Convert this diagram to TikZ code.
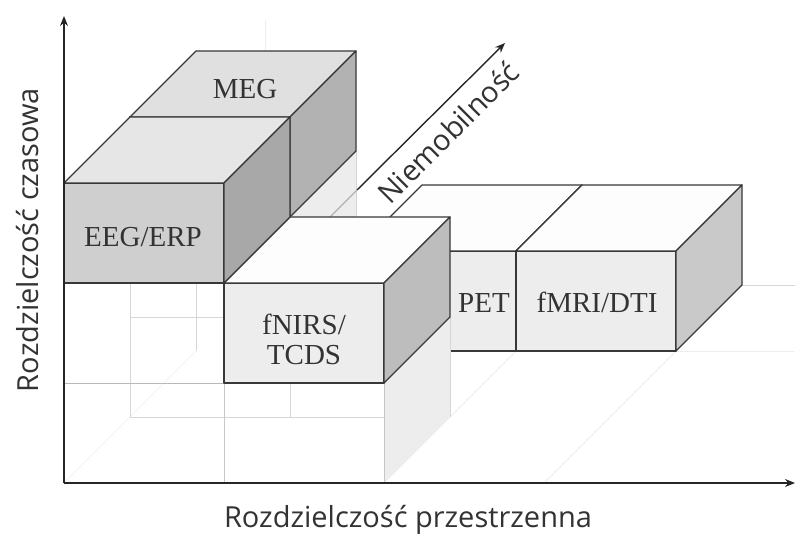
\documentclass[tikz,border=0pt]{standalone}
\usepackage{fontspec}
\setmainfont{Liberation Serif}
\newfontfamily\labelfont{Open Sans}
\usetikzlibrary{arrows.meta}
\definecolor{eegfront}{HTML}{CFCFCF}
\definecolor{eegtop}{HTML}{E6E6E6}
\definecolor{eegside}{HTML}{A8A8A8}
\definecolor{megtop}{HTML}{E0E0E0}
\definecolor{megside}{HTML}{B2B2B2}
\definecolor{lightfront}{HTML}{EDEDED}
\definecolor{lighttop}{HTML}{FDFDFD}
\definecolor{fnirsside}{HTML}{BDBDBD}
\definecolor{petside}{HTML}{C9C9C9}
\definecolor{inkgray}{HTML}{333333}
\newcommand{\drawbox}[9]{%
  \filldraw[boxedge, fill=#7] (#1,#3,#5) -- (#2,#3,#5) -- (#2,#4,#5) -- (#1,#4,#5) -- cycle;
  \filldraw[boxedge, fill=#8] (#1,#4,#5) -- (#2,#4,#5) -- (#2,#4,#6) -- (#1,#4,#6) -- cycle;
  \filldraw[boxedge, fill=#9] (#2,#3,#5) -- (#2,#3,#6) -- (#2,#4,#6) -- (#2,#4,#5) -- cycle;
}
\tikzset{
  boxedge/.style={draw=black!78, line width=1.3pt, line join=round},
  gridline/.style={draw=black!16, line width=0.7pt},
  faintline/.style={draw=black!7, line width=0.7pt},
  planefill/.style={fill=black!7},
  axisline/.style={draw=black!85, line width=2.2pt, -{Stealth[length=10pt,width=8pt]}},
  boxlabel/.style={font=\fontsize{29}{31}\selectfont, text=inkgray, inner sep=0pt, align=center},
  axislabel/.style={font=\labelfont\fontsize{29}{32}\selectfont, text=inkgray, inner sep=0pt},
}
\begin{document}
\begin{tikzpicture}[x=1pt,y=1pt]
\useasboundingbox (0,0) rectangle (795,-534);
\fill[white] (0,0) rectangle (795,-534);
\begin{scope}[shift={(64pt,-483pt)}, x={(160pt,0pt)}, y={(0pt,100pt)}, z={(66pt,66pt)}]
  % background wireframe
  \draw[faintline] (0,0,0) -- (0,0,2);
  \draw[gridline] (0,0,1) -- (2,0,1);
  \draw[gridline] (0,0,1) -- (0,2,1);
  \draw[gridline] (0,0,2) -- (0,2,2);
  \draw[gridline] (0,1,1) -- (1,1,1);
  \draw[gridline] (1,0,1) -- (1,1,1);
  \draw[gridline, draw=black!28] (0,1,0) -- (1,1,0);
  \draw[gridline, draw=black!22] (1,0,0) -- (1,2,0);
  \draw[gridline, draw=black!22] (2,0,0) -- (2,1,0);
  \draw[faintline] (2,0,0) -- (2,0,2);
  \draw[faintline] (3,0,0) -- (3,0,2);
  \draw[faintline] (3,0,2) -- (3.74,0,2);
  \draw[gridline] (3,0,3) -- (3.33,0,3);
  \draw[gridline] (1,1,2) -- (1,2,2);
  % translucent wall behind fNIRS
  \fill[planefill] (1,1,1) -- (1,1,2) -- (1,2,2) -- (1,2,1) -- cycle;
  \draw[gridline] (1,1.34,2) -- (1,2,2);
\end{scope}
\draw[faintline] (265,-20) -- (265,-52);
% immobility arrow
\coordinate (nHidden) at (330,-217);
\coordinate (nStart) at (357,-190);
\coordinate (nEnd) at (505,-43);
\draw[draw=black!30, line width=1.1pt] (nHidden) -- (nStart);
\draw[draw=black!85, line width=1.4pt, -{Stealth[length=10pt,width=8pt]}] (nStart) -- (nEnd);
\begin{scope}[shift={(64pt,-483pt)}, x={(160pt,0pt)}, y={(0pt,100pt)}, z={(66pt,66pt)}]
  \drawbox{1}{2}{0}{1}{2}{3}{lightfront}{lighttop}{petside}
  \drawbox{2}{3}{0}{1}{2}{3}{lightfront}{lighttop}{petside}
  % translucent wall in front of PET
  \fill[planefill] (2,0,0) -- (2,0,1) -- (2,1,1) -- (2,1,0) -- cycle;
  \draw[gridline] (2,0,1) -- (2,1,1);
  \draw[gridline, draw=black!22] (2,0,0) -- (2,1,0);
  \drawbox{0}{1}{2}{3}{1}{2}{megtop}{megtop}{megside}
  \drawbox{1}{2}{1}{2}{0}{1}{lightfront}{lighttop}{fnirsside}
  \drawbox{0}{1}{2}{3}{0}{1}{eegfront}{eegtop}{eegside}
\end{scope}
% axes
\coordinate (O) at (64,-483);
\coordinate (yTip) at (64,-16);
\coordinate (xTip) at (795,-483);
\draw[axisline] (O) -- (yTip);
\draw[axisline] (O) -- (xTip);
% labels
\node[boxlabel, anchor=base] (meg) at (245,-99) {MEG};
\node[boxlabel, anchor=base] (eeg) at (143,-247) {EEG/ERP};
\node[boxlabel, anchor=center] (fnirs) at (304,-339) {fNIRS/\\[-1pt]TCDS};
\node[boxlabel, anchor=base] (pet) at (484,-313) {PET};
\node[boxlabel, anchor=base] (fmri) at (597,-313) {fMRI/DTI};
\node[axislabel, anchor=base, rotate=45] (immob) at (456,-140) {Niemobilność};
\node[axislabel, anchor=base, rotate=90] (ylab) at (38,-240) {Rozdzielczość czasowa};
\node[axislabel, anchor=base] (xlab) at (408,-527) {Rozdzielczość przestrzenna};
\end{tikzpicture}
\end{document}
